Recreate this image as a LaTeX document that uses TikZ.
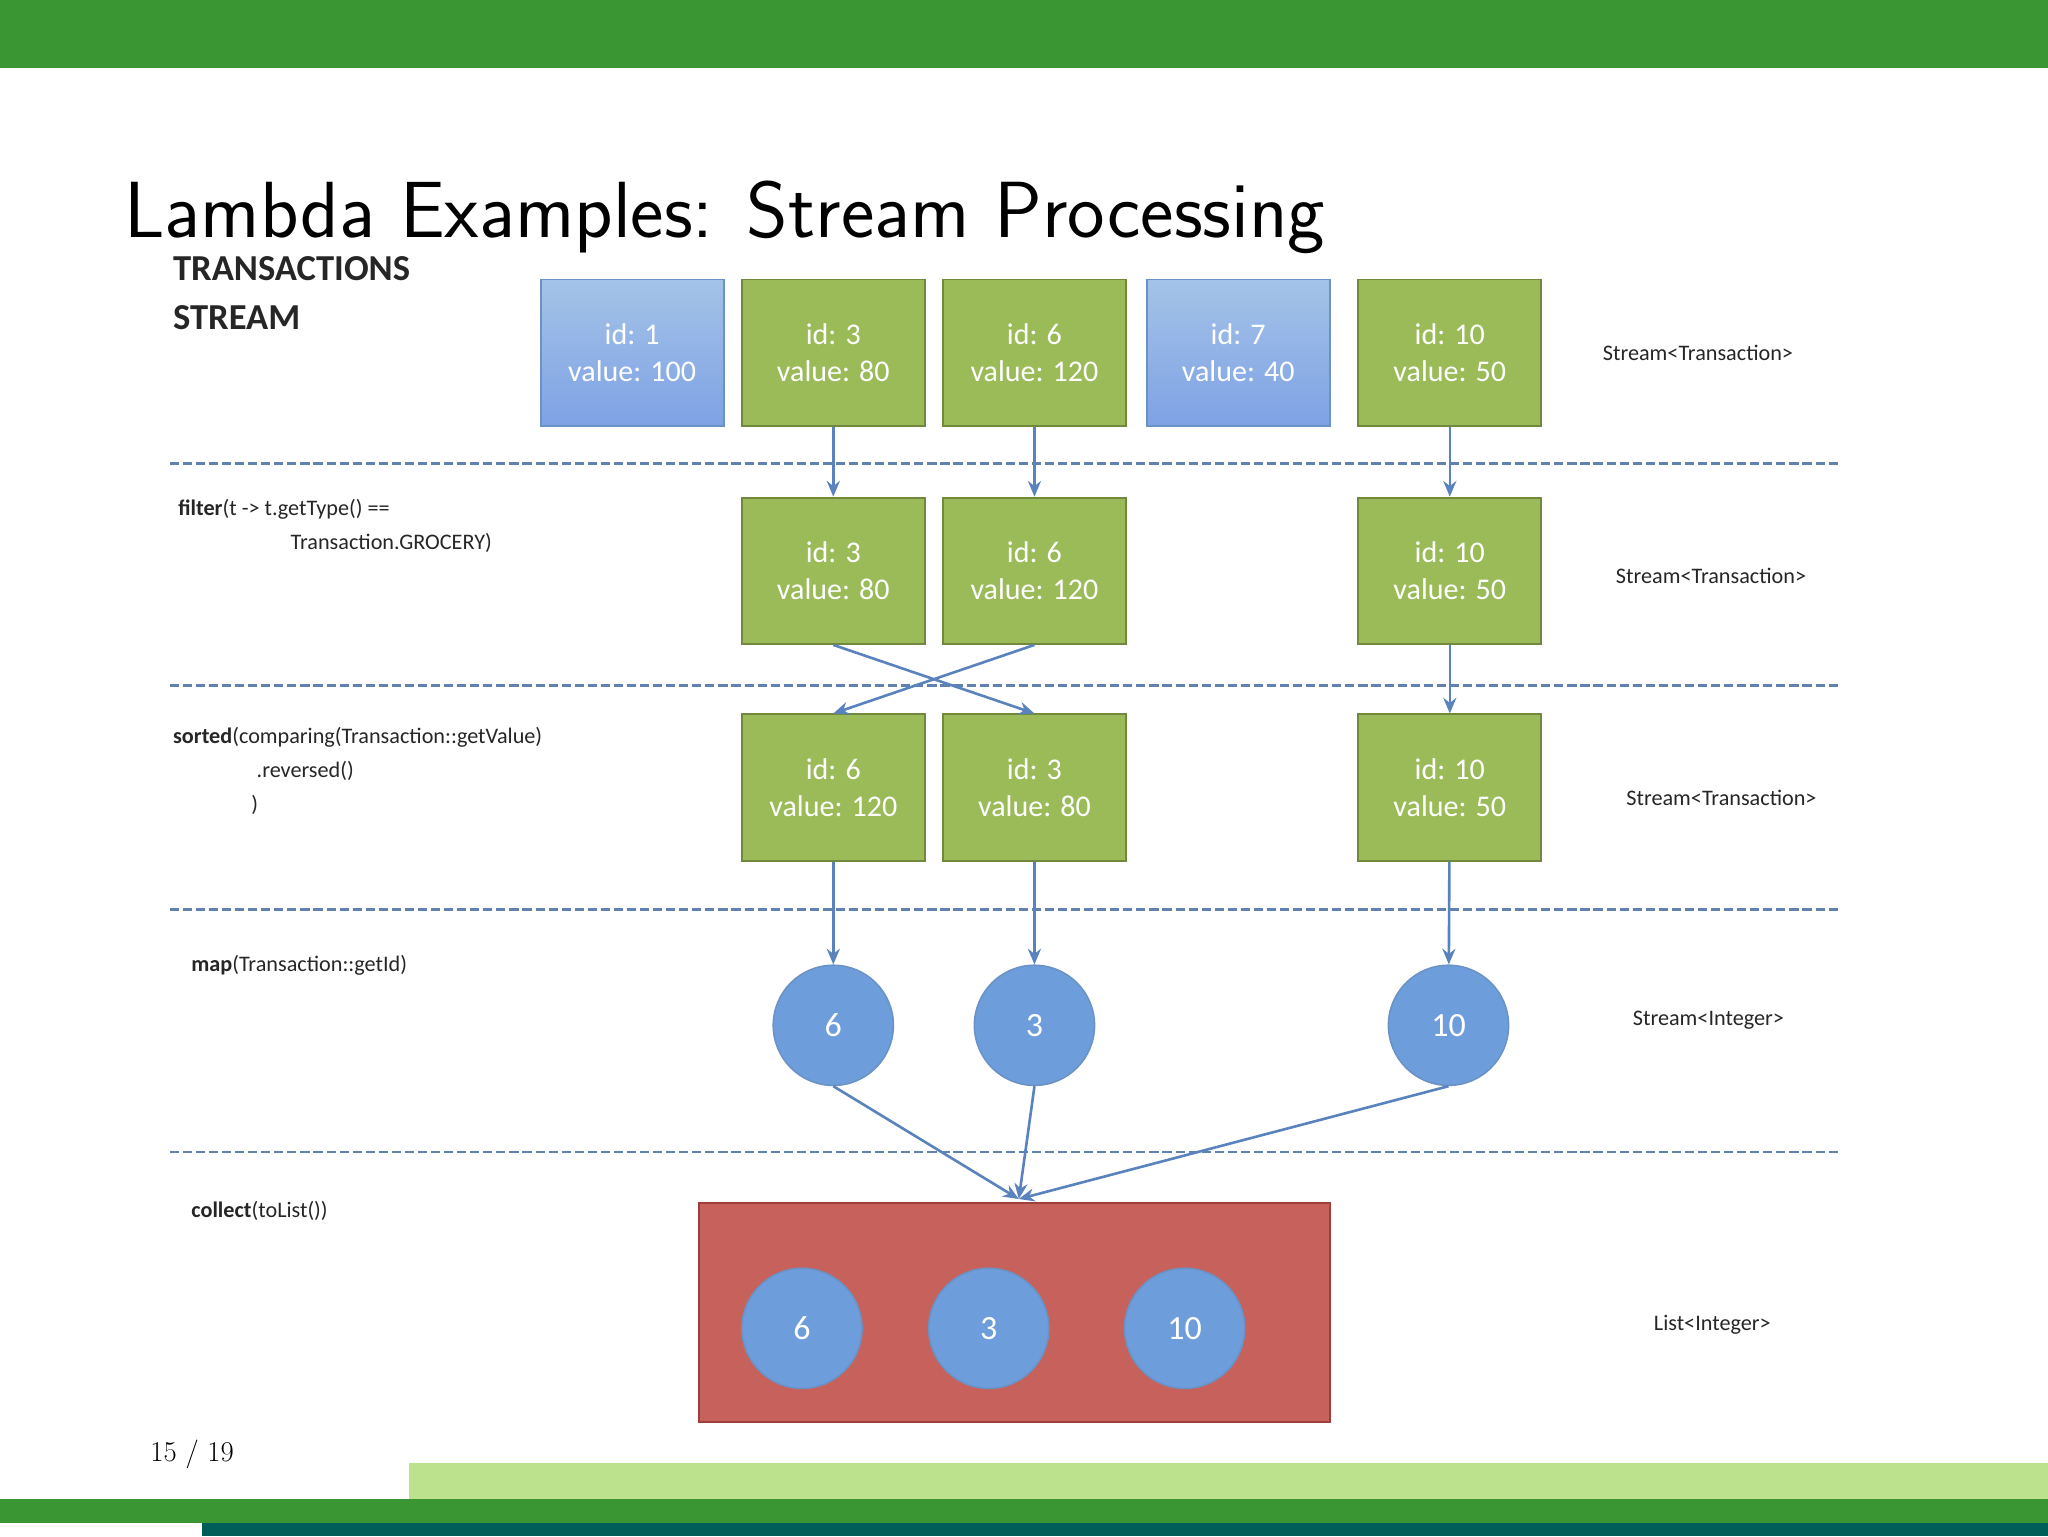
\documentclass[tikz,border=0pt]{standalone}
\usepackage{fontspec}
\newfontfamily\carl{Carlito}
\usetikzlibrary{arrows.meta}
\definecolor{topg}{HTML}{3A9632}
\definecolor{lightg}{HTML}{BCE28E}
\definecolor{tealb}{HTML}{005E58}
\definecolor{gbox}{HTML}{9BBB59}
\definecolor{gbord}{HTML}{71893F}
\definecolor{bbox}{HTML}{8DB4E2}
\definecolor{bbord}{HTML}{6A92C4}
\definecolor{rbox}{HTML}{C6615C}
\definecolor{rbord}{HTML}{9E3F3B}
\definecolor{circ}{HTML}{6E9DDC}
\definecolor{arr}{HTML}{5A83BD}
\begin{document}
\begin{tikzpicture}[x=1pt,y=-1pt,
 gb/.style={draw=gbord,line width=1.5pt,fill=gbox,minimum width=140pt,minimum height=112pt,text=white,font=\carl\fontsize{23}{28}\selectfont,align=center},
 bb/.style={gb,draw=bbord,top color=bbox!80!white,bottom color=bbox!90!blue},
 cc/.style={circle,draw=bbord,line width=1.2pt,fill=circ,minimum size=92pt,text=white,font=\carl\fontsize{26}{30}\selectfont},
 ar/.style={arr,line width=2pt,-{Stealth[length=12pt,width=10pt]}},
 dl/.style={arr!80!gray,line width=2.2pt,dash pattern=on 7pt off 3pt},
 lab/.style={anchor=base west,font=\carl\fontsize{17}{21}\selectfont,text=black!85},
 rl/.style={font=\carl\fontsize{17}{21}\selectfont,text=black!85}]
\useasboundingbox (0,0) rectangle (1568,1176);
\fill[topg] (0,0) rectangle (1568,52);
\fill[lightg] (313,1120) rectangle (1568,1148);
\fill[topg] (0,1148) rectangle (1568,1166);
\fill[tealb] (155,1166) rectangle (1568,1176);
\node[anchor=base west,font=\sffamily\fontsize{61}{70}\selectfont,inner sep=0] (title) at (95,182) {Lambda Examples: Stream Processing};
\node[anchor=base west,font=\fontsize{22}{26}\selectfont,inner sep=0] (pg) at (115,1119) {15 / 19};
% dashed lines
\foreach \y in {355,525,696,882} \draw[dl] (130,\y) -- (1408,\y);
% row1
\node[bb] (a1) at (484,270) {id: 1\\value: 100};
\node[gb] (a3) at (638,270) {id: 3\\value: 80};
\node[gb] (a6) at (792,270) {id: 6\\value: 120};
\node[bb] (a7) at (948,270) {id: 7\\value: 40};
\node[gb] (a10) at (1110,270) {id: 10\\value: 50};
% row2
\node[gb] (b3) at (638,437) {id: 3\\value: 80};
\node[gb] (b6) at (792,437) {id: 6\\value: 120};
\node[gb] (b10) at (1110,437) {id: 10\\value: 50};
% row3
\node[gb] (c6) at (638,603) {id: 6\\value: 120};
\node[gb] (c3) at (792,603) {id: 3\\value: 80};
\node[gb] (c10) at (1110,603) {id: 10\\value: 50};
% circles
\node[cc] (d6) at (638,785) {6};
\node[cc] (d3) at (792,785) {3};
\node[cc] (d10) at (1109,785) {10};
% red
\node[draw=rbord,line width=1.5pt,fill=rbox,minimum width=483pt,minimum height=168pt] (red) at (776.5,1005) {};
\node[cc] (e6) at (614,1017) {6};
\node[cc] (e3) at (757,1017) {3};
\node[cc] (e10) at (907,1017) {10};
\coordinate (m) at (780,918);
% arrows
\draw[ar] (a3) -- (b3); \draw[ar] (a6) -- (b6); \draw[ar] (a10) -- (b10);
\draw[ar] (b3.south) -- (c3.north); \draw[ar] (b6.south) -- (c6.north);
\draw[ar] (b10) -- (c10);
\draw[ar] (c6) -- (d6); \draw[ar] (c3) -- (d3); \draw[ar] (c10) -- (d10);
\draw[ar] (d6.south) -- (m); \draw[ar] (d3.south) -- (m); \draw[ar] (d10.south) -- (m);
% left labels
\node[anchor=base west,font=\carl\bfseries\fontsize{28}{37}\selectfont,align=left,text=black!85] (ts) at (129,252) {TRANSACTIONS\\STREAM};
\node[lab] (f1) at (133,395) {\textbf{filter}(t -> t.getType() ==};
\node[lab] (f2) at (219,421) {Transaction.GROCERY)};
\node[lab] (s1) at (129,569) {\textbf{sorted}(comparing(Transaction::getValue)};
\node[lab] (s2) at (193,595) {.reversed()};
\node[lab] (s3) at (189,621) {)};
\node[lab] (mp) at (143,744) {\textbf{map}(Transaction::getId)};
\node[lab] (cl) at (143,932) {\textbf{collect}(toList())};
% right labels
\node[rl] (r1) at (1300,270) {Stream<Transaction>};
\node[rl] (r2) at (1310,441) {Stream<Transaction>};
\node[rl] (r3) at (1318,611) {Stream<Transaction>};
\node[rl] (r4) at (1308,781) {Stream<Integer>};
\node[rl] (r5) at (1311,1014) {List<Integer>};
\end{tikzpicture}
\end{document}
